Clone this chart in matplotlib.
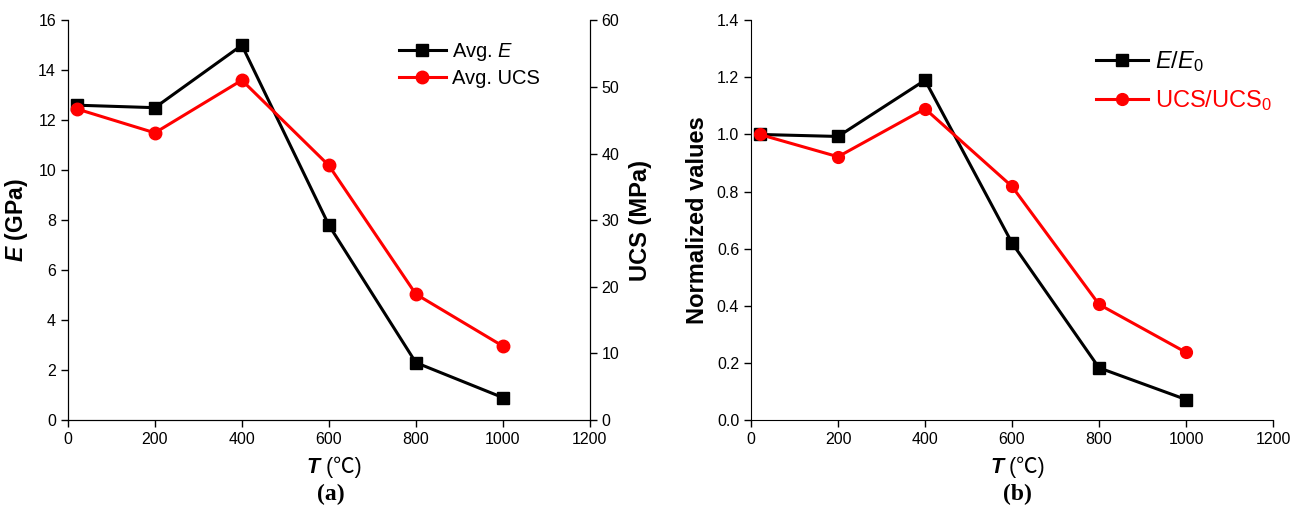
import matplotlib
matplotlib.use("Agg")
import matplotlib.pyplot as plt

plt.rcParams['font.family'] = ['Liberation Sans', 'DejaVu Sans']
plt.rcParams['mathtext.fontset'] = 'custom'
plt.rcParams['mathtext.rm'] = 'Liberation Sans'
plt.rcParams['mathtext.it'] = 'Liberation Sans:italic'
plt.rcParams['mathtext.bf'] = 'Liberation Sans:bold'
plt.rcParams['mathtext.bfit'] = 'Liberation Sans:bold:italic'

# data
temps = [20, 200, 400, 600, 800, 1000]
avg_E = [12.6, 12.5, 15.0, 7.8, 2.3, 0.9]          # GPa
avg_ucs = [46.7, 43.1, 51.0, 38.2, 18.9, 11.1]     # MPa
E_norm = [1.0, 0.993, 1.19, 0.62, 0.183, 0.072]
ucs_norm = [1.0, 0.922, 1.09, 0.818, 0.405, 0.237]
x_ticks = [0, 200, 400, 600, 800, 1000, 1200]

fig = plt.figure(figsize=(13.05, 5.18), dpi=100)
ax1 = fig.add_axes([0.052, 0.189, 0.400, 0.772])
ax3 = fig.add_axes([0.5755, 0.189, 0.400, 0.772])

tick_fs = 11.5
lw = 2.2
red = '#ff0000'

def style_axis(ax):
    ax.set_xlim(0, 1200)
    ax.set_xticks(x_ticks)
    ax.spines['top'].set_visible(False)
    ax.tick_params(direction='out', length=5, width=1, labelsize=tick_fs)
    # x label "T (℃)": bold italic T, then the unit with a CJK fallback for ℃
    ax.text(0.483, -0.118, 'T', transform=ax.transAxes, ha='right', va='center',
            fontsize=15.5, fontweight='bold', fontstyle='italic')
    ax.text(0.483, -0.118, ' (℃)', transform=ax.transAxes, ha='left', va='center',
            fontsize=15.5, family=['Liberation Sans', 'Noto Sans CJK SC'])

# (a)
style_axis(ax1)
l1, = ax1.plot(temps, avg_E, color='black', lw=lw, marker='s', ms=8, label=r'Avg. $\mathit{E}$')
ax1.set_ylim(0, 16)
ax1.set_yticks(range(0, 17, 2))
ax1.set_ylabel(r'$\mathbfit{E}$ (GPa)', fontsize=16.5, fontweight='bold', labelpad=6)

ax2 = ax1.twinx()
ax2.spines['top'].set_visible(False)
l2, = ax2.plot(temps, avg_ucs, color=red, lw=lw, marker='o', ms=9, label='Avg. UCS')
ax2.set_ylim(0, 60)
ax2.set_yticks(range(0, 61, 10))
ax2.tick_params(direction='out', length=5, width=1, labelsize=tick_fs)
ax2.set_ylabel('UCS (MPa)', fontsize=17, fontweight='bold', labelpad=7)

ax1.legend(handles=[l1, l2], loc='upper left', bbox_to_anchor=(0.6, 0.993), frameon=False,
           fontsize=14.5, handlelength=2.3, handletextpad=0.3, labelspacing=0.3)

# (b)
style_axis(ax3)
ax3.spines['right'].set_visible(False)
l3, = ax3.plot(temps, E_norm, color='black', lw=lw, marker='s', ms=8, label=r'$\mathit{E}/\mathit{E}_\mathrm{0}$')
l4, = ax3.plot(temps, ucs_norm, color=red, lw=lw, marker='o', ms=8.5, label=r'UCS/UCS$_\mathrm{0}$')
ax3.set_ylim(0, 1.4)
ax3.set_yticks([0.0, 0.2, 0.4, 0.6, 0.8, 1.0, 1.2, 1.4])
ax3.set_yticklabels(['0.0', '0.2', '0.4', '0.6', '0.8', '1.0', '1.2', '1.4'])
ax3.set_ylabel('Normalized values', fontsize=17, fontweight='bold', labelpad=6)
leg = ax3.legend(handles=[l3, l4], loc='upper left', bbox_to_anchor=(0.62, 0.98), frameon=False,
                 fontsize=17, handlelength=2.2, handletextpad=0.3, labelspacing=0.6)
leg.get_texts()[1].set_color(red)

fig.text(0.2535, 0.035, '(a)', ha='center', fontsize=17, fontweight='bold', family='Liberation Serif')
fig.text(0.7795, 0.035, '(b)', ha='center', fontsize=17, fontweight='bold', family='Liberation Serif')

fig.savefig('out.png', dpi=100)
